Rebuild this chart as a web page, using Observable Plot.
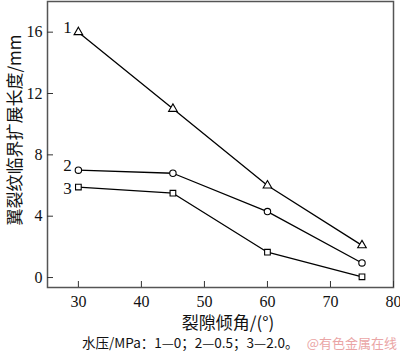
<!DOCTYPE html>
<html><head><meta charset="utf-8">
<script src="https://cdn.jsdelivr.net/npm/d3@7"></script>
<script src="https://cdn.jsdelivr.net/npm/@observablehq/plot@0.6"></script>
<style>
body{margin:0;background:#fff;}
#c{position:relative;width:400px;height:355px;}
</style></head>
<body><div id="c"></div>
<script>
const angles = [30, 45, 60, 75];
const series1 = [16, 11, 6.0, 2.1];
const series2 = [7.0, 6.8, 4.3, 0.95];
const series3 = [5.9, 5.5, 1.65, 0.05];
const seriesNames = ["1", "2", "3"];
const symbols = ["triangle", "circle", "square"];
const xTicks = [30, 40, 50, 60, 70, 80];
const yTicks = [0, 4, 8, 12, 16];
const yLabel = "翼裂纹临界扩展长度/mm";
const xLabel = "裂隙倾角/(°)";
const caption = "水压/MPa：1—0；2—0.5；3—2.0。";
const watermark = "@有色金属在线";

const all = [series1, series2, series3];
const data = [];
all.forEach((vals, i) => vals.forEach((v, j) => data.push({s: seriesNames[i], x: angles[j], y: v, sym: symbols[i]})));
const firsts = data.filter(d => d.x === angles[0]);

const W = 400, H = 355, mL = 47, mR = 7, mT = 1, mB = 68;
const fw = W - mL - mR, fh = H - mT - mB;
const serif = "'Liberation Serif','Noto Sans CJK SC',serif";

const plot = Plot.plot({
  width: W, height: H,
  marginLeft: mL, marginRight: mR, marginTop: mT, marginBottom: mB,
  style: {fontFamily: serif, background: "white", overflow: "visible"},
  x: {domain: [25.1, 80], label: null},
  y: {domain: [-0.65, 18], label: null},
  symbol: {domain: symbols, range: symbols},
  marks: [
    Plot.frame({stroke: "#555", strokeWidth: 1.5}),
    Plot.axisX({ticks: xTicks, tickSize: 0, tickPadding: 8, fontSize: 16, label: null, fill: "#111"}),
    Plot.axisY({ticks: yTicks, tickSize: 0, tickPadding: 5, fontSize: 16, label: null, fill: "#111"}),
    Plot.tickY(yTicks, {y: d => d, stroke: "#333", insetRight: fw - 6}),
    Plot.tickX(xTicks, {x: d => d, stroke: "#333", insetTop: fh - 6}),
    Plot.line(data, {x: "x", y: "y", z: "s", stroke: "black", strokeWidth: 1.3}),
    Plot.dot(data, {x: "x", y: "y", symbol: "sym", r: 3.2, fill: "white", stroke: "black", strokeWidth: 1.1}),
    Plot.text(firsts.filter(d => d.s !== "3"), {x: "x", y: "y", text: "s", dx: -11, dy: -5, fontSize: 17, fill: "#111"}),
    Plot.text(firsts.filter(d => d.s === "3"), {x: "x", y: "y", text: "s", dx: -11, dy: 1, fontSize: 17, fill: "#111"})
  ]
});
document.getElementById("c").appendChild(plot);
const svg = d3.select(plot);
svg.append("text").attr("transform", "translate(16,130) rotate(-90)")
  .attr("text-anchor", "middle").attr("dominant-baseline", "middle")
  .style("font-family", "'Noto Sans CJK SC',serif").style("font-size", "17px").attr("fill", "#111")
  .text(yLabel);
svg.append("text").attr("x", 228).attr("y", 324)
  .attr("text-anchor", "middle").attr("dominant-baseline", "middle")
  .style("font-family", "'Noto Sans CJK SC',serif").style("font-size", "17px").attr("fill", "#111")
  .text(xLabel);
svg.append("text").attr("x", 82).attr("y", 344)
  .attr("text-anchor", "start").attr("dominant-baseline", "middle")
  .style("font-family", "'Noto Sans CJK SC',serif").style("font-size", "13.5px").attr("fill", "#111")
  .text(caption);
svg.append("text").attr("x", 397).attr("y", 344)
  .attr("text-anchor", "end").attr("dominant-baseline", "middle")
  .style("font-family", "'Noto Sans CJK SC',sans-serif").style("font-size", "13px").attr("fill", "#eaa5a5")
  .text(watermark);
</script></body></html>
